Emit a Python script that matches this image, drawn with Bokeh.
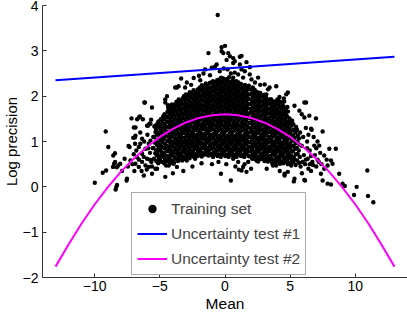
from bokeh.plotting import figure
from bokeh.models import Range1d, FixedTicker, Legend, LegendItem, Title
from bokeh.embed import file_html
from bokeh.resources import INLINE

# ---- Training set: dense core ----
train_core = [
    (-5.45,0.62),(-5.35,0.74),(-5.5,0.86),(-5.38,0.97),(-5.46,1.1),(-5.33,1.21),(-5.42,1.33),
    (-5.12,0.52),(-5.05,0.63),(-5.18,0.75),(-5.08,0.86),(-5.14,0.98),(-5.02,1.08),(-5.16,1.19),(-5.06,1.31),(-5.11,1.44),
    (-4.83,0.55),(-4.75,0.66),(-4.86,0.77),(-4.78,0.87),(-4.81,0.99),(-4.72,1.1),(-4.85,1.2),(-4.77,1.31),(-4.8,1.42),(-4.74,1.55),
    (-4.52,0.47),(-4.46,0.58),(-4.55,0.69),(-4.48,0.8),(-4.5,0.9),(-4.43,1.01),(-4.56,1.12),(-4.47,1.22),(-4.53,1.33),(-4.45,1.44),(-4.5,1.55),(-4.41,1.66),
    (-4.18,0.52),(-4.25,0.63),(-4.15,0.73),(-4.22,0.84),(-4.16,0.95),(-4.24,1.05),(-4.19,1.16),(-4.13,1.27),(-4.23,1.37),(-4.17,1.48),(-4.21,1.59),(-4.14,1.69),(-4.2,1.79),
    (-3.92,0.54),(-3.86,0.65),(-3.95,0.76),(-3.88,0.86),(-3.9,0.97),(-3.84,1.07),(-3.93,1.18),(-3.87,1.28),(-3.91,1.39),(-3.85,1.5),(-3.94,1.6),(-3.89,1.71),(-3.86,1.82),
    (-3.62,0.57),(-3.55,0.68),(-3.64,0.78),(-3.58,0.89),(-3.6,0.99),(-3.53,1.1),(-3.66,1.2),(-3.57,1.31),(-3.61,1.41),(-3.54,1.52),(-3.63,1.62),(-3.58,1.73),(-3.6,1.83),(-3.55,1.93),
    (-3.28,0.58),(-3.34,0.69),(-3.25,0.79),(-3.31,0.9),(-3.27,1.0),(-3.35,1.1),(-3.29,1.21),(-3.24,1.31),(-3.32,1.42),(-3.26,1.52),(-3.33,1.63),(-3.28,1.73),(-3.3,1.84),(-3.25,1.95),
    (-3.02,0.61),(-2.96,0.71),(-3.05,0.82),(-2.98,0.92),(-3.01,1.03),(-2.94,1.13),(-3.04,1.24),(-2.97,1.34),(-3.0,1.45),(-2.95,1.55),(-3.03,1.66),(-2.99,1.76),(-3.02,1.87),(-2.96,1.97),(-3.0,2.04),
    (-2.72,0.63),(-2.66,0.73),(-2.74,0.84),(-2.68,0.94),(-2.71,1.05),(-2.64,1.15),(-2.75,1.25),(-2.67,1.36),(-2.7,1.46),(-2.65,1.57),(-2.73,1.67),(-2.68,1.78),(-2.71,1.88),(-2.66,1.99),(-2.7,2.09),
    (-2.38,0.66),(-2.44,0.76),(-2.35,0.87),(-2.41,0.97),(-2.37,1.08),(-2.45,1.18),(-2.39,1.29),(-2.34,1.39),(-2.42,1.5),(-2.36,1.6),(-2.43,1.71),(-2.38,1.81),(-2.4,1.92),(-2.35,2.02),(-2.41,2.13),
    (-2.12,0.68),(-2.06,0.78),(-2.14,0.89),(-2.08,0.99),(-2.11,1.1),(-2.04,1.2),(-2.15,1.31),(-2.07,1.41),(-2.1,1.52),(-2.05,1.62),(-2.13,1.73),(-2.08,1.83),(-2.11,1.94),(-2.06,2.04),(-2.1,2.15),
    (-1.78,0.67),(-1.84,0.77),(-1.75,0.88),(-1.81,0.98),(-1.77,1.09),(-1.85,1.19),(-1.79,1.3),(-1.74,1.4),(-1.82,1.51),(-1.76,1.61),(-1.83,1.72),(-1.78,1.82),(-1.8,1.93),(-1.75,2.03),(-1.81,2.14),(-1.77,2.24),
    (-1.52,0.71),(-1.46,0.81),(-1.54,0.92),(-1.48,1.02),(-1.51,1.13),(-1.44,1.23),(-1.55,1.34),(-1.47,1.44),(-1.5,1.55),(-1.45,1.65),(-1.53,1.76),(-1.48,1.86),(-1.51,1.97),(-1.46,2.07),(-1.5,2.18),(-1.47,2.28),
    (-1.18,0.7),(-1.24,0.8),(-1.15,0.91),(-1.21,1.01),(-1.17,1.12),(-1.25,1.22),(-1.19,1.33),(-1.14,1.43),(-1.22,1.54),(-1.16,1.64),(-1.23,1.75),(-1.18,1.85),(-1.2,1.96),(-1.15,2.06),(-1.21,2.17),(-1.17,2.29),
    (-0.92,0.66),(-0.86,0.76),(-0.94,0.87),(-0.88,0.97),(-0.91,1.08),(-0.84,1.18),(-0.95,1.29),(-0.87,1.39),(-0.9,1.5),(-0.85,1.6),(-0.93,1.71),(-0.88,1.81),(-0.91,1.92),(-0.86,2.02),(-0.9,2.13),(-0.87,2.23),(-0.92,2.33),
    (-0.58,0.68),(-0.64,0.78),(-0.55,0.89),(-0.61,0.99),(-0.57,1.1),(-0.65,1.2),(-0.59,1.31),(-0.54,1.41),(-0.62,1.52),(-0.56,1.62),(-0.63,1.73),(-0.58,1.83),(-0.6,1.94),(-0.55,2.04),(-0.61,2.15),(-0.57,2.25),(-0.6,2.35),
    (-0.32,0.66),(-0.26,0.76),(-0.34,0.87),(-0.28,0.97),(-0.31,1.08),(-0.24,1.18),(-0.35,1.29),(-0.27,1.39),(-0.3,1.5),(-0.25,1.6),(-0.33,1.71),(-0.28,1.81),(-0.31,1.92),(-0.26,2.02),(-0.3,2.13),(-0.27,2.23),(-0.32,2.33),(-0.29,2.41),
    (0.02,0.68),(-0.04,0.78),(0.05,0.89),(-0.01,0.99),(0.03,1.1),(-0.05,1.2),(0.01,1.31),(0.06,1.41),(-0.02,1.52),(0.04,1.62),(-0.03,1.73),(0.02,1.83),(0.0,1.94),(0.05,2.04),(-0.01,2.15),(0.03,2.25),(0.0,2.36),
    (0.28,0.66),(0.34,0.76),(0.26,0.87),(0.32,0.97),(0.29,1.08),(0.36,1.18),(0.25,1.29),(0.33,1.39),(0.3,1.5),(0.35,1.6),(0.27,1.71),(0.32,1.81),(0.29,1.92),(0.34,2.02),(0.3,2.13),(0.33,2.23),(0.28,2.33),(0.31,2.42),
    (0.62,0.68),(0.56,0.78),(0.65,0.89),(0.59,0.99),(0.63,1.1),(0.55,1.2),(0.61,1.31),(0.66,1.41),(0.58,1.52),(0.64,1.62),(0.57,1.73),(0.62,1.83),(0.6,1.94),(0.65,2.04),(0.59,2.15),(0.63,2.25),(0.6,2.35),
    (0.88,0.66),(0.94,0.76),(0.86,0.87),(0.92,0.97),(0.89,1.08),(0.96,1.18),(0.85,1.29),(0.93,1.39),(0.9,1.5),(0.95,1.6),(0.87,1.71),(0.92,1.81),(0.89,1.92),(0.94,2.02),(0.9,2.13),(0.93,2.23),(0.88,2.33),
    (1.22,0.68),(1.16,0.78),(1.25,0.89),(1.19,0.99),(1.23,1.1),(1.15,1.2),(1.21,1.31),(1.26,1.41),(1.18,1.52),(1.24,1.62),(1.17,1.73),(1.22,1.83),(1.2,1.94),(1.25,2.04),(1.19,2.15),(1.23,2.27),
    (1.48,0.66),(1.54,0.76),(1.46,0.87),(1.52,0.97),(1.49,1.08),(1.56,1.18),(1.45,1.29),(1.53,1.39),(1.5,1.5),(1.55,1.6),(1.47,1.71),(1.52,1.81),(1.49,1.92),(1.54,2.02),(1.5,2.13),(1.53,2.25),
    (1.82,0.68),(1.76,0.78),(1.85,0.89),(1.79,0.99),(1.83,1.1),(1.75,1.2),(1.81,1.31),(1.86,1.41),(1.78,1.52),(1.84,1.62),(1.77,1.73),(1.82,1.83),(1.8,1.94),(1.85,2.04),(1.79,2.15),(1.83,2.23),
    (2.08,0.62),(2.14,0.72),(2.06,0.83),(2.12,0.93),(2.09,1.04),(2.16,1.14),(2.05,1.25),(2.13,1.35),(2.1,1.46),(2.15,1.56),(2.07,1.67),(2.12,1.77),(2.09,1.88),(2.14,1.98),(2.1,2.09),(2.13,2.19),
    (2.42,0.63),(2.36,0.73),(2.45,0.84),(2.39,0.94),(2.43,1.05),(2.35,1.15),(2.41,1.26),(2.46,1.36),(2.38,1.47),(2.44,1.57),(2.37,1.68),(2.42,1.78),(2.4,1.89),(2.45,1.99),(2.39,2.1),
    (2.68,0.61),(2.74,0.71),(2.66,0.82),(2.72,0.92),(2.69,1.03),(2.76,1.13),(2.65,1.24),(2.73,1.34),(2.7,1.45),(2.75,1.55),(2.67,1.66),(2.72,1.76),(2.69,1.87),(2.74,1.97),(2.7,2.07),
    (3.02,0.57),(2.96,0.67),(3.05,0.78),(2.99,0.88),(3.03,0.99),(2.95,1.09),(3.01,1.2),(3.06,1.3),(2.98,1.41),(3.04,1.51),(2.97,1.62),(3.02,1.72),(3.0,1.83),(3.05,1.93),(2.99,2.03),
    (3.28,0.56),(3.34,0.66),(3.26,0.77),(3.32,0.87),(3.29,0.98),(3.36,1.08),(3.25,1.19),(3.33,1.29),(3.3,1.4),(3.35,1.5),(3.27,1.61),(3.32,1.71),(3.29,1.82),(3.34,1.92),
    (3.62,0.52),(3.56,0.62),(3.65,0.73),(3.59,0.83),(3.63,0.94),(3.55,1.04),(3.61,1.15),(3.66,1.25),(3.58,1.36),(3.64,1.46),(3.57,1.57),(3.62,1.67),(3.6,1.78),(3.65,1.88),
    (3.88,0.53),(3.94,0.63),(3.86,0.74),(3.92,0.84),(3.89,0.95),(3.96,1.05),(3.85,1.16),(3.93,1.26),(3.9,1.37),(3.95,1.47),(3.87,1.58),(3.92,1.68),(3.89,1.79),(3.93,1.9),
    (4.22,0.51),(4.16,0.61),(4.25,0.72),(4.19,0.82),(4.23,0.93),(4.15,1.03),(4.21,1.14),(4.26,1.24),(4.18,1.35),(4.24,1.45),(4.17,1.56),(4.22,1.66),(4.2,1.77),(4.25,1.88),(4.18,1.98),
    (4.48,0.52),(4.54,0.62),(4.46,0.73),(4.52,0.83),(4.49,0.94),(4.56,1.04),(4.45,1.15),(4.53,1.25),(4.5,1.36),(4.55,1.46),(4.47,1.57),(4.52,1.67),(4.49,1.78),(4.54,1.88),
    (4.82,0.5),(4.76,0.6),(4.85,0.71),(4.79,0.81),(4.83,0.92),(4.75,1.02),(4.81,1.13),(4.86,1.23),(4.78,1.34),(4.84,1.44),(4.77,1.55),(4.83,1.66),(4.79,1.76),
    (5.08,0.47),(5.14,0.58),(5.06,0.69),(5.12,0.8),(5.09,0.91),(5.16,1.02),(5.05,1.13),(5.13,1.24),(5.1,1.35),(5.15,1.46),
    (5.42,0.48),(5.36,0.6),(5.45,0.72),(5.39,0.84),(5.43,0.96),(5.35,1.08),(5.41,1.2),(5.46,1.32),
    (5.68,0.53),(5.74,0.66),(5.66,0.8),(5.72,0.93),(5.69,1.07),(5.76,1.2),
]

# ---- Training set: second layer of the core, between the columns above ----
train_core_b = [
    (-5.27,0.57),(-5.22,0.69),(-5.29,0.81),(-5.2,0.92),(-5.26,1.04),(-5.23,1.15),(-5.28,1.27),(-5.21,1.38),
    (-4.97,0.58),(-4.92,0.69),(-4.99,0.81),(-4.94,0.92),(-4.91,1.03),(-4.98,1.14),(-4.93,1.25),(-4.96,1.37),(-4.92,1.49),
    (-4.67,0.52),(-4.62,0.63),(-4.69,0.74),(-4.64,0.85),(-4.61,0.95),(-4.68,1.06),(-4.63,1.17),(-4.66,1.27),(-4.62,1.38),(-4.69,1.49),(-4.64,1.6),
    (-4.37,0.57),(-4.32,0.68),(-4.39,0.79),(-4.34,0.89),(-4.31,1.0),(-4.38,1.11),(-4.33,1.21),(-4.36,1.32),(-4.32,1.43),(-4.39,1.53),(-4.34,1.64),(-4.36,1.74),
    (-4.07,0.58),(-4.02,0.69),(-4.09,0.79),(-4.04,0.9),(-4.01,1.0),(-4.08,1.11),(-4.03,1.22),(-4.06,1.32),(-4.02,1.43),(-4.09,1.54),(-4.04,1.64),(-4.06,1.75),
    (-3.77,0.62),(-3.72,0.73),(-3.79,0.83),(-3.74,0.94),(-3.71,1.04),(-3.78,1.15),(-3.73,1.25),(-3.76,1.36),(-3.72,1.46),(-3.79,1.57),(-3.74,1.67),(-3.76,1.78),(-3.72,1.88),
    (-3.47,0.63),(-3.42,0.74),(-3.49,0.84),(-3.44,0.95),(-3.41,1.05),(-3.48,1.16),(-3.43,1.26),(-3.46,1.37),(-3.42,1.47),(-3.49,1.58),(-3.44,1.68),(-3.46,1.79),(-3.42,1.89),
    (-3.17,0.66),(-3.12,0.76),(-3.19,0.87),(-3.14,0.97),(-3.11,1.08),(-3.18,1.18),(-3.13,1.29),(-3.16,1.39),(-3.12,1.5),(-3.19,1.6),(-3.14,1.71),(-3.16,1.81),(-3.12,1.92),(-3.15,2.0),
    (-2.87,0.67),(-2.82,0.77),(-2.89,0.88),(-2.84,0.98),(-2.81,1.09),(-2.88,1.19),(-2.83,1.3),(-2.86,1.4),(-2.82,1.51),(-2.89,1.61),(-2.84,1.72),(-2.86,1.82),(-2.82,1.93),(-2.85,2.03),
    (-2.57,0.69),(-2.52,0.8),(-2.59,0.9),(-2.54,1.01),(-2.51,1.11),(-2.58,1.22),(-2.53,1.32),(-2.56,1.43),(-2.52,1.53),(-2.59,1.64),(-2.54,1.74),(-2.56,1.85),(-2.52,1.95),(-2.55,2.06),
    (-2.27,0.72),(-2.22,0.83),(-2.29,0.93),(-2.24,1.04),(-2.21,1.14),(-2.28,1.25),(-2.23,1.35),(-2.26,1.46),(-2.22,1.56),(-2.29,1.67),(-2.24,1.77),(-2.26,1.88),(-2.22,1.98),(-2.25,2.09),
    (-1.97,0.73),(-1.92,0.84),(-1.99,0.94),(-1.94,1.05),(-1.91,1.15),(-1.98,1.26),(-1.93,1.36),(-1.96,1.47),(-1.92,1.57),(-1.99,1.68),(-1.94,1.78),(-1.96,1.89),(-1.92,1.99),(-1.95,2.1),(-1.93,2.19),
    (-1.67,0.74),(-1.62,0.85),(-1.69,0.95),(-1.64,1.06),(-1.61,1.16),(-1.68,1.27),(-1.63,1.37),(-1.66,1.48),(-1.62,1.58),(-1.69,1.69),(-1.64,1.79),(-1.66,1.9),(-1.62,2.0),(-1.65,2.11),(-1.63,2.21),
    (-1.37,0.76),(-1.32,0.86),(-1.39,0.97),(-1.34,1.07),(-1.31,1.18),(-1.38,1.28),(-1.33,1.39),(-1.36,1.49),(-1.32,1.6),(-1.39,1.7),(-1.34,1.81),(-1.36,1.91),(-1.32,2.02),(-1.35,2.12),(-1.33,2.23),
    (-1.07,0.73),(-1.02,0.84),(-1.09,0.94),(-1.04,1.05),(-1.01,1.15),(-1.08,1.26),(-1.03,1.36),(-1.06,1.47),(-1.02,1.57),(-1.09,1.68),(-1.04,1.78),(-1.06,1.89),(-1.02,1.99),(-1.05,2.1),(-1.03,2.2),(-1.07,2.3),
    (-0.77,0.72),(-0.72,0.83),(-0.79,0.93),(-0.74,1.04),(-0.71,1.14),(-0.78,1.25),(-0.73,1.35),(-0.76,1.46),(-0.72,1.56),(-0.79,1.67),(-0.74,1.77),(-0.76,1.88),(-0.72,1.98),(-0.75,2.09),(-0.73,2.19),(-0.77,2.3),
    (-0.47,0.71),(-0.42,0.82),(-0.49,0.92),(-0.44,1.03),(-0.41,1.13),(-0.48,1.24),(-0.43,1.34),(-0.46,1.45),(-0.42,1.55),(-0.49,1.66),(-0.44,1.76),(-0.46,1.87),(-0.42,1.97),(-0.45,2.08),(-0.43,2.18),(-0.47,2.29),(-0.44,2.37),
    (-0.17,0.72),(-0.12,0.83),(-0.19,0.93),(-0.14,1.04),(-0.11,1.14),(-0.18,1.25),(-0.13,1.35),(-0.16,1.46),(-0.12,1.56),(-0.19,1.67),(-0.14,1.77),(-0.16,1.88),(-0.12,1.98),(-0.15,2.09),(-0.13,2.19),(-0.17,2.3),(-0.14,2.39),
    (0.13,0.71),(0.18,0.82),(0.11,0.92),(0.16,1.03),(0.19,1.13),(0.12,1.24),(0.17,1.34),(0.14,1.45),(0.18,1.55),(0.11,1.66),(0.16,1.76),(0.14,1.87),(0.18,1.97),(0.15,2.08),(0.17,2.18),(0.13,2.29),(0.16,2.38),
    (0.43,0.72),(0.48,0.83),(0.41,0.93),(0.46,1.04),(0.49,1.14),(0.42,1.25),(0.47,1.35),(0.44,1.46),(0.48,1.56),(0.41,1.67),(0.46,1.77),(0.44,1.88),(0.48,1.98),(0.45,2.09),(0.47,2.19),(0.43,2.3),
    (0.73,0.71),(0.78,0.82),(0.71,0.92),(0.76,1.03),(0.79,1.13),(0.72,1.24),(0.77,1.34),(0.74,1.45),(0.78,1.55),(0.71,1.66),(0.76,1.76),(0.74,1.87),(0.78,1.97),(0.75,2.08),(0.77,2.18),(0.73,2.29),
    (1.03,0.72),(1.08,0.83),(1.01,0.93),(1.06,1.04),(1.09,1.14),(1.02,1.25),(1.07,1.35),(1.04,1.46),(1.08,1.56),(1.01,1.67),(1.06,1.77),(1.04,1.88),(1.08,1.98),(1.05,2.09),(1.07,2.2),(1.03,2.3),
    (1.33,0.71),(1.38,0.82),(1.31,0.92),(1.36,1.03),(1.39,1.13),(1.32,1.24),(1.37,1.34),(1.34,1.45),(1.38,1.55),(1.31,1.66),(1.36,1.76),(1.34,1.87),(1.38,1.97),(1.35,2.08),(1.37,2.19),
    (1.63,0.72),(1.68,0.83),(1.61,0.93),(1.66,1.04),(1.69,1.14),(1.62,1.25),(1.67,1.35),(1.64,1.46),(1.68,1.56),(1.61,1.67),(1.66,1.77),(1.64,1.88),(1.68,1.98),(1.65,2.09),(1.67,2.2),
    (1.93,0.67),(1.98,0.78),(1.91,0.88),(1.96,0.99),(1.99,1.09),(1.92,1.2),(1.97,1.3),(1.94,1.41),(1.98,1.51),(1.91,1.62),(1.96,1.72),(1.94,1.83),(1.98,1.93),(1.95,2.04),(1.97,2.15),
    (2.23,0.68),(2.28,0.78),(2.21,0.89),(2.26,0.99),(2.29,1.1),(2.22,1.2),(2.27,1.31),(2.24,1.41),(2.28,1.52),(2.21,1.62),(2.26,1.73),(2.24,1.83),(2.28,1.94),(2.25,2.05),(2.27,2.14),
    (2.53,0.66),(2.58,0.77),(2.51,0.87),(2.56,0.98),(2.59,1.08),(2.52,1.19),(2.57,1.29),(2.54,1.4),(2.58,1.5),(2.51,1.61),(2.56,1.71),(2.54,1.82),(2.58,1.92),(2.55,2.03),
    (2.83,0.63),(2.88,0.74),(2.81,0.84),(2.86,0.95),(2.89,1.05),(2.82,1.16),(2.87,1.26),(2.84,1.37),(2.88,1.47),(2.81,1.58),(2.86,1.68),(2.84,1.79),(2.88,1.89),(2.85,2.0),
    (3.13,0.62),(3.18,0.72),(3.11,0.83),(3.16,0.93),(3.19,1.04),(3.12,1.14),(3.17,1.25),(3.14,1.35),(3.18,1.46),(3.11,1.56),(3.16,1.67),(3.14,1.77),(3.18,1.88),(3.15,1.97),
    (3.43,0.58),(3.48,0.68),(3.41,0.79),(3.46,0.89),(3.49,1.0),(3.42,1.1),(3.47,1.21),(3.44,1.31),(3.48,1.42),(3.41,1.52),(3.46,1.63),(3.44,1.73),(3.48,1.84),(3.45,1.93),
    (3.73,0.58),(3.78,0.69),(3.71,0.79),(3.76,0.9),(3.79,1.0),(3.72,1.11),(3.77,1.21),(3.74,1.32),(3.78,1.42),(3.71,1.53),(3.76,1.63),(3.74,1.74),(3.78,1.84),
    (4.03,0.57),(4.08,0.67),(4.01,0.78),(4.06,0.88),(4.09,0.99),(4.02,1.09),(4.07,1.2),(4.04,1.3),(4.08,1.41),(4.01,1.51),(4.06,1.62),(4.04,1.72),(4.08,1.83),(4.05,1.93),
    (4.33,0.56),(4.38,0.67),(4.31,0.77),(4.36,0.88),(4.39,0.98),(4.32,1.09),(4.37,1.19),(4.34,1.3),(4.38,1.4),(4.31,1.51),(4.36,1.61),(4.34,1.72),(4.38,1.83),
    (4.63,0.55),(4.68,0.66),(4.61,0.76),(4.66,0.87),(4.69,0.97),(4.62,1.08),(4.67,1.18),(4.64,1.29),(4.68,1.39),(4.61,1.5),(4.66,1.6),(4.64,1.71),
    (4.93,0.53),(4.98,0.64),(4.91,0.74),(4.96,0.85),(4.99,0.96),(4.92,1.07),(4.97,1.18),(4.94,1.29),(4.98,1.4),(4.95,1.51),
    (5.23,0.54),(5.28,0.66),(5.21,0.78),(5.26,0.9),(5.29,1.02),(5.22,1.14),(5.27,1.26),(5.24,1.38),
    (5.53,0.58),(5.58,0.72),(5.51,0.86),(5.56,1.0),(5.59,1.13),(5.52,1.26),
]

# ---- Training set: sparse points on the left flank ----
train_left = [
    (-9.99,0.09),(-9.38,0.31),(-9.12,0.36),(-9.15,1.22),(-8.95,0.88),(-8.34,0.0),(-8.28,0.04),(-8.39,-0.06),
    (-8.57,0.69),(-8.44,0.74),(-8.51,0.51),(-8.43,0.55),(-8.59,0.44),(-8.3,0.43),(-8.19,0.47),(-8.04,0.51),
    (-7.55,0.14),(-7.52,0.18),(-7.32,0.88),(-7.4,0.9),(-7.17,1.51),(-7.04,1.08),(-6.87,1.31),(-6.99,1.31),
    (-6.53,1.55),(-6.3,1.49),(-6.74,1.49),(-6.61,1.53),(-6.18,1.86),(-5.9,1.35),(-5.8,1.39),(-5.67,1.48),
    (-5.98,1.35),(-5.72,1.39),(-5.34,1.35),(-6.87,1.13),(-7.25,0.58),(-6.87,0.51),(-6.61,0.44),(-6.36,0.55),
    (-6.23,0.66),(-5.98,0.62),(-6.1,0.47),(-5.85,0.44),(-6.23,0.25),(-5.6,0.29),(-5.34,0.4),(-6.36,0.73),
    (-6.1,0.84),(-5.85,0.95),(-5.72,1.02),(-6.36,1.06),(-6.61,0.88),(-6.91,1.09),(-4.58,0.22),(-5.21,0.4),
    (-7.0,0.72),(-6.75,0.65),(-5.75,0.75),(-5.95,1.15),(-6.5,1.2),(-5.65,0.55),(-7.45,0.45),(-7.7,0.62),
    (-7.9,0.35),(-6.95,0.35),(-5.6,1.75),(-6.8,0.8),(-6.5,0.95),(-5.9,0.85),(-6.2,1.0),(-5.75,0.6),
    (-6.6,0.6),(-6.0,0.38),(-7.1,0.5),(-6.4,0.35),(-5.5,1.1),(-5.55,0.85),(-5.6,0.45),(-6.9,0.95),
]

# ---- Training set: sparse points above the core ----
train_top = [
    (-0.56,3.79),(0.0,3.11),(-0.26,3.08),(-0.26,2.99),(-0.13,2.95),(-1.27,2.95),(0.25,2.95),(0.37,2.88),
    (0.63,2.84),(1.27,2.89),(1.14,2.87),(0.12,2.8),(0.63,2.73),(0.75,2.77),(1.65,2.75),(1.14,2.7),
    (-0.64,2.7),(-0.77,2.65),(-1.02,2.63),(-1.53,2.59),(-0.1,2.61),(0.2,2.59),(1.9,2.64),(1.27,2.59),
    (1.52,2.55),(0.75,2.52),(1.01,2.48),(0.63,2.41),(1.39,2.41),(-1.65,2.5),(-1.15,2.46),(1.9,2.48),
    (2.03,2.37),(2.54,2.41),(-3.36,2.39),(-2.93,2.3),(-3.06,2.19),(-3.69,2.19),(-3.56,2.22),(-3.82,2.19),
    (-4.45,2.0),(-4.58,1.93),(-4.37,1.8),(-4.58,1.86),(-4.07,1.82),(3.04,2.26),(3.42,2.19),(3.3,2.15),
    (3.93,2.22),(2.54,2.08),(3.17,2.04),(3.55,1.93),(4.06,1.93),(4.7,2.04),(-2.4,2.4),(-2.0,2.45),
    (-0.4,2.55),(0.45,2.5),(-1.9,2.35),(-2.6,2.25),(2.3,2.3),(2.7,2.25),(-6.15,1.86),
]

# ---- Training set: sparse points on the right flank ----
train_right = [
    (4.82,2.08),(4.52,1.95),(6.22,1.86),(5.33,1.79),(5.71,1.68),(5.89,1.6),(6.09,1.53),(6.98,1.51),
    (6.65,1.26),(7.49,1.22),(6.85,0.91),(7.23,0.91),(8.0,0.84),(8.5,0.84),(7.61,0.69),(8.13,0.58),
    (8.25,0.51),(7.87,0.47),(7.61,0.4),(8.76,0.29),(7.36,0.29),(7.49,0.14),(7.87,0.07),(8.13,0.05),
    (9.02,0.07),(9.19,0.02),(10.1,0.0),(9.9,-0.18),(10.92,0.36),(10.97,-0.2),(11.38,-0.34),(5.28,0.12),
    (6.14,0.14),(4.57,0.29),(4.82,0.33),(6.09,1.86),(6.6,1.28),(6.47,1.57),(5.33,0.18),(6.09,0.15),
    (4.57,0.25),(6.0,1.1),(6.3,1.0),(6.5,0.8),(6.2,0.6),(6.7,0.55),(6.9,0.7),(7.1,0.6),
    (7.3,0.75),(7.0,0.45),(6.4,0.4),(5.9,0.3),(6.6,0.35),(7.4,0.5),(7.8,0.6),(7.1,1.0),
    (6.2,1.3),(5.9,0.9),(6.4,1.15),(5.8,0.45),(6.8,1.1),(6.05,0.7),(6.35,0.62),(6.6,0.68),
    (6.15,0.5),(6.75,0.48),(7.2,0.55),(6.5,0.5),(7.0,0.85),(6.3,0.85),(5.95,0.55),
]

# ---- Training set: sparse points below the core ----
train_bottom = [
    (0.45,0.14),(-0.31,0.29),(1.06,0.38),(1.39,0.44),(1.27,0.36),(1.65,0.33),(2.54,0.56),(2.79,0.62),
    (2.41,0.58),(3.68,0.47),(3.93,0.47),(-4.32,0.66),(-3.94,0.51),(-3.69,0.44),(-3.56,0.58),(-2.93,0.58),
    (-2.8,0.66),(-2.29,0.62),(-2.04,0.69),(-1.65,0.73),(-1.27,0.69),(-0.64,0.73),(-0.13,0.77),(0.25,0.69),
    (0.63,0.62),(1.01,0.55),(1.78,0.55),(2.28,0.62),(3.04,0.62),(3.3,0.66),(-4.32,0.47),(-4.63,0.55),
    (-2.5,0.45),(-1.0,0.5),(-0.5,0.55),(0.8,0.45),(2.0,0.4),(-3.2,0.35),(3.2,0.4),(-1.8,0.52),
    (1.5,0.5),(-4.0,0.3),(4.2,0.35),(0.1,0.5),
]

# ---- Uncertainty test #1 (straight line) ----
test1_x = [-13, 13]
test1_y = [2.35, 2.87]

# ---- Uncertainty test #2 (curve read at unit steps) ----
test2_x = [-13, -12, -11, -10, -9, -8, -7, -6, -5, -4, -3, -2, -1, 0,
           1, 2, 3, 4, 5, 6, 7, 8, 9, 10, 11, 12, 13]
test2_y = [-1.76, -1.27, -0.81, -0.39, -0.01, 0.33, 0.62, 0.88, 1.10, 1.28, 1.42, 1.52, 1.58, 1.60,
           1.58, 1.52, 1.42, 1.28, 1.10, 0.88, 0.62, 0.33, -0.01, -0.39, -0.81, -1.27, -1.76]

x_ticks = [-10, -5, 0, 5, 10]
y_ticks = [-2, -1, 0, 1, 2, 3, 4]
x_label = "Mean"
y_label = "Log precision"

all_train = train_core + train_core_b + train_left + train_top + train_right + train_bottom
train_x = [pt[0] for pt in all_train]
train_y = [pt[1] for pt in all_train]

FONT = "Liberation Sans"

p = figure(width=407, height=314, output_backend="svg", toolbar_location=None,
           x_range=Range1d(-14, 14), y_range=Range1d(-2, 4),
           min_border_left=41, min_border_right=0, min_border_top=5, min_border_bottom=35)
p.outline_line_color = None
p.grid.visible = False
p.background_fill_color = "white"
p.border_fill_color = "white"

r0 = p.scatter(train_x, train_y, size=4.4, marker="circle", fill_color="black", line_color=None)
r1 = p.line(test1_x, test1_y, line_color="#0000ff", line_width=2)
r2 = p.line(test2_x, test2_y, line_color="#ff00ff", line_width=2)

def minus(v):
    return ("\u2212" + str(abs(v))) if v < 0 else str(v)

for ax, ticks in ((p.xaxis[0], x_ticks), (p.yaxis[0], y_ticks)):
    ax.ticker = FixedTicker(ticks=ticks, minor_ticks=[])
    ax.major_label_overrides = {t: minus(t) for t in ticks}
    ax.major_tick_in = 4
    ax.major_tick_out = 0
    ax.minor_tick_in = 0
    ax.minor_tick_out = 0
    ax.axis_line_color = "#333333"
    ax.major_tick_line_color = "#333333"
    ax.major_label_text_font = FONT
    ax.major_label_text_font_size = "14px"
    ax.major_label_text_color = "black"
    ax.axis_label_text_font = FONT
    ax.axis_label_text_font_size = "15.5px"
    ax.axis_label_text_font_style = "normal"
    ax.axis_label_text_color = "black"

p.xaxis.axis_label = x_label
p.xaxis.major_label_standoff = 3
p.xaxis.axis_label_standoff = 1
p.yaxis.major_label_standoff = 4

# y title as a side Title outside the y axis panel
ytitle = Title(text=y_label, align="center", text_font=FONT, text_font_size="15px",
               text_font_style="normal", text_color="black", standoff=0, offset=0)
p.add_layout(ytitle, "left")

legend = Legend(items=[
    LegendItem(label="Training set", renderers=[r0]),
    LegendItem(label="Uncertainty test #1", renderers=[r1]),
    LegendItem(label="Uncertainty test #2", renderers=[r2]),
], location=(89, 2))
legend.label_text_font = FONT
legend.label_text_font_size = "15.5px"
legend.border_line_color = "#555555"
legend.border_line_width = 1
legend.background_fill_color = "white"
legend.background_fill_alpha = 1
legend.padding = 5
legend.spacing = 4
legend.margin = 0
legend.label_height = 21
legend.glyph_height = 21
legend.glyph_width = 30
legend.label_standoff = 4
p.add_layout(legend)

open("out.html", "w").write(file_html(p, INLINE))
